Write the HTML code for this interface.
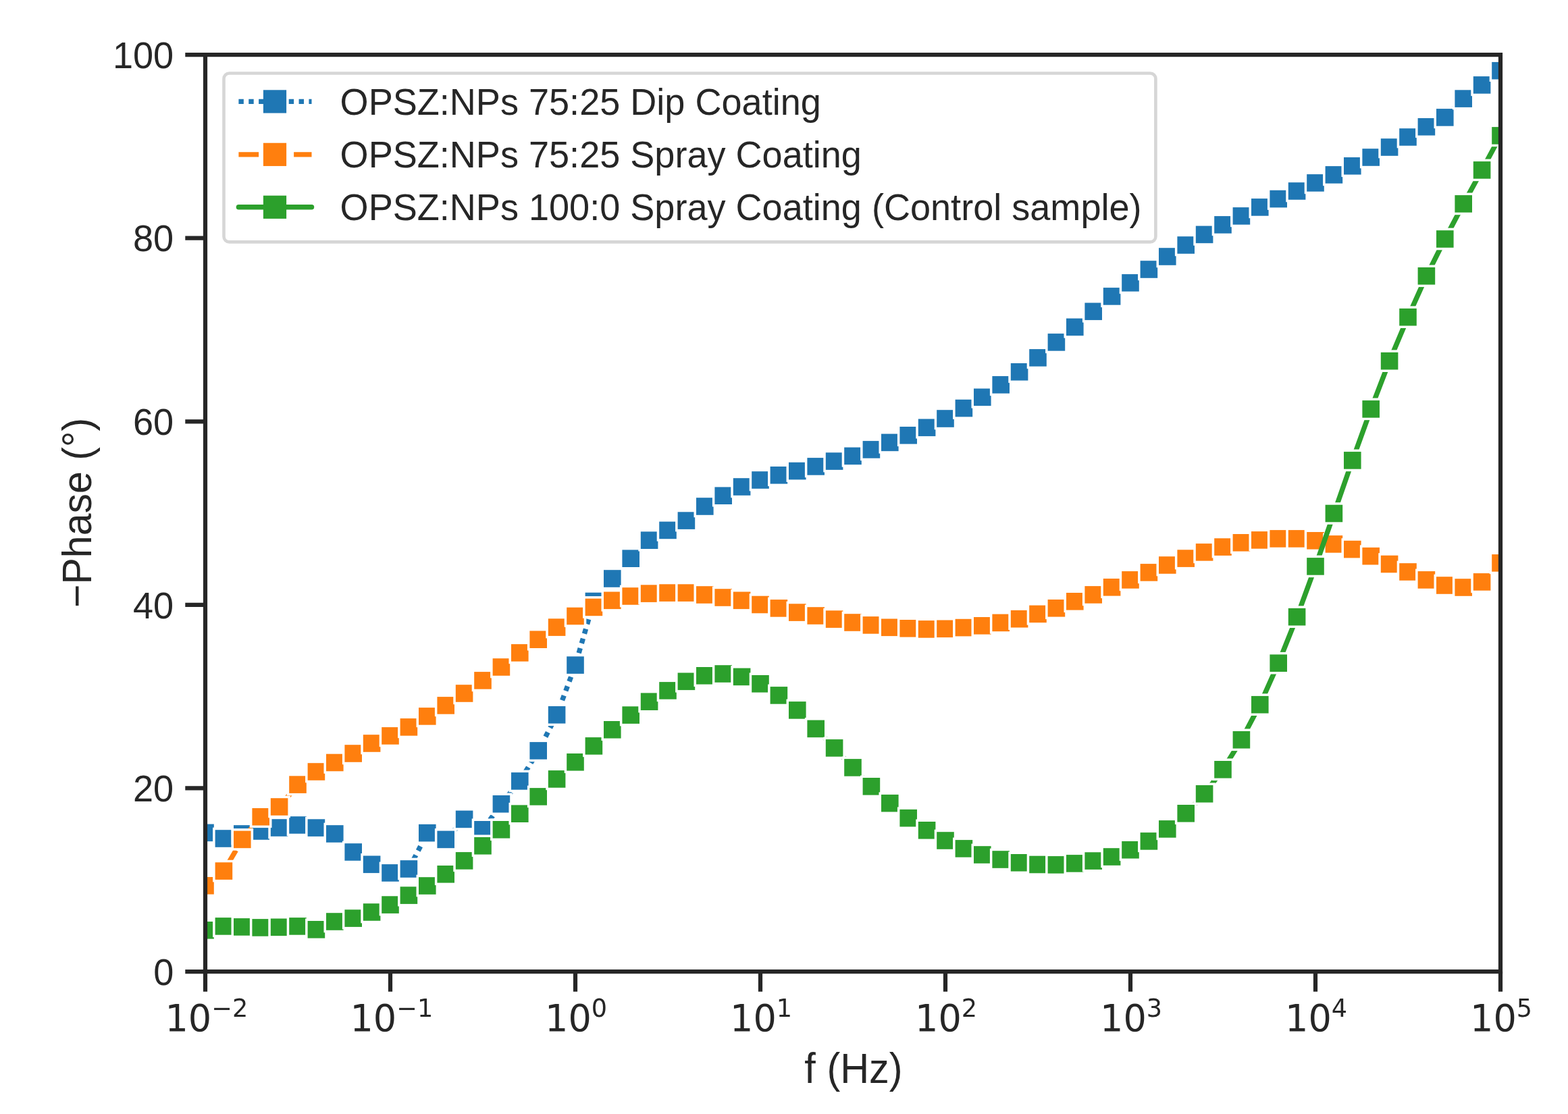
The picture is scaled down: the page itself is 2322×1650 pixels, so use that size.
<!DOCTYPE html>
<html><head><meta charset="utf-8"><title>-Phase vs f</title>
<style>html,body{margin:0;padding:0;background:#fff;width:2322px;height:1650px;overflow:hidden;}svg{display:block;}text{font-family:"Liberation Sans",Arial,sans-serif;fill:#262626;}.dv{font-family:"DejaVu Sans","Liberation Sans",sans-serif;}</style>
</head><body>
<svg width="2322" height="1650" viewBox="0 0 2322 1650">
<rect x="0" y="0" width="2322" height="1650" fill="#fff"/>
<defs><clipPath id="ax"><rect x="304" y="81.1" width="1918" height="1357.95"/></clipPath></defs>
<g clip-path="url(#ax)">
<polyline points="304,1233.4 331.4,1242 358.8,1235 386.2,1231 413.6,1226 441,1222 468.4,1226.1 495.8,1235 523.2,1262 550.6,1280.3 578,1292.9 605.4,1287 632.8,1233.7 660.2,1243.4 687.6,1213.4 715,1228.8 742.4,1190.8 769.8,1156.9 797.2,1111.9 824.6,1058.8 852,985.1 879.4,890.5 906.8,857 934.2,827.2 961.6,800.2 989,785.4 1016.4,771.1 1043.8,750 1071.2,734.2 1098.6,721 1126,711 1153.4,703.8 1180.8,697.6 1208.2,690.9 1235.6,683.1 1263,675.4 1290.4,665.9 1317.8,655.4 1345.2,644.8 1372.6,633.3 1400,620 1427.4,604.6 1454.8,588.3 1482.2,569.9 1509.6,550.8 1537,529.9 1564.4,506.9 1591.8,484.4 1619.2,461.3 1646.6,438.9 1674,418.9 1701.4,399 1728.8,380 1756.2,363 1783.6,347.4 1811,332.9 1838.4,319.9 1865.8,306.9 1893.2,294.6 1920.6,283 1948,270.9 1975.4,258.9 2002.8,245.8 2030.2,233 2057.6,218 2085,203 2112.4,187.8 2139.8,173.9 2167.2,146.1 2194.6,125.9 2222,104.7" fill="none" stroke="#1f77b4" stroke-width="7.43" stroke-linejoin="round" stroke-dasharray="7.43 7.43" stroke-linecap="butt"/>
<g fill="#1f77b4" stroke="#fff" stroke-width="3.5">
<rect x="289.45" y="1218.85" width="29.1" height="29.1"/>
<rect x="316.85" y="1227.45" width="29.1" height="29.1"/>
<rect x="344.25" y="1220.45" width="29.1" height="29.1"/>
<rect x="371.65" y="1216.45" width="29.1" height="29.1"/>
<rect x="399.05" y="1211.45" width="29.1" height="29.1"/>
<rect x="426.45" y="1207.45" width="29.1" height="29.1"/>
<rect x="453.85" y="1211.55" width="29.1" height="29.1"/>
<rect x="481.25" y="1220.45" width="29.1" height="29.1"/>
<rect x="508.65" y="1247.45" width="29.1" height="29.1"/>
<rect x="536.05" y="1265.75" width="29.1" height="29.1"/>
<rect x="563.45" y="1278.35" width="29.1" height="29.1"/>
<rect x="590.85" y="1272.45" width="29.1" height="29.1"/>
<rect x="618.25" y="1219.15" width="29.1" height="29.1"/>
<rect x="645.65" y="1228.85" width="29.1" height="29.1"/>
<rect x="673.05" y="1198.85" width="29.1" height="29.1"/>
<rect x="700.45" y="1214.25" width="29.1" height="29.1"/>
<rect x="727.85" y="1176.25" width="29.1" height="29.1"/>
<rect x="755.25" y="1142.35" width="29.1" height="29.1"/>
<rect x="782.65" y="1097.35" width="29.1" height="29.1"/>
<rect x="810.05" y="1044.25" width="29.1" height="29.1"/>
<rect x="837.45" y="970.55" width="29.1" height="29.1"/>
<rect x="864.85" y="875.95" width="29.1" height="29.1"/>
<rect x="892.25" y="842.45" width="29.1" height="29.1"/>
<rect x="919.65" y="812.65" width="29.1" height="29.1"/>
<rect x="947.05" y="785.65" width="29.1" height="29.1"/>
<rect x="974.45" y="770.85" width="29.1" height="29.1"/>
<rect x="1001.85" y="756.55" width="29.1" height="29.1"/>
<rect x="1029.25" y="735.45" width="29.1" height="29.1"/>
<rect x="1056.65" y="719.65" width="29.1" height="29.1"/>
<rect x="1084.05" y="706.45" width="29.1" height="29.1"/>
<rect x="1111.45" y="696.45" width="29.1" height="29.1"/>
<rect x="1138.85" y="689.25" width="29.1" height="29.1"/>
<rect x="1166.25" y="683.05" width="29.1" height="29.1"/>
<rect x="1193.65" y="676.35" width="29.1" height="29.1"/>
<rect x="1221.05" y="668.55" width="29.1" height="29.1"/>
<rect x="1248.45" y="660.85" width="29.1" height="29.1"/>
<rect x="1275.85" y="651.35" width="29.1" height="29.1"/>
<rect x="1303.25" y="640.85" width="29.1" height="29.1"/>
<rect x="1330.65" y="630.25" width="29.1" height="29.1"/>
<rect x="1358.05" y="618.75" width="29.1" height="29.1"/>
<rect x="1385.45" y="605.45" width="29.1" height="29.1"/>
<rect x="1412.85" y="590.05" width="29.1" height="29.1"/>
<rect x="1440.25" y="573.75" width="29.1" height="29.1"/>
<rect x="1467.65" y="555.35" width="29.1" height="29.1"/>
<rect x="1495.05" y="536.25" width="29.1" height="29.1"/>
<rect x="1522.45" y="515.35" width="29.1" height="29.1"/>
<rect x="1549.85" y="492.35" width="29.1" height="29.1"/>
<rect x="1577.25" y="469.85" width="29.1" height="29.1"/>
<rect x="1604.65" y="446.75" width="29.1" height="29.1"/>
<rect x="1632.05" y="424.35" width="29.1" height="29.1"/>
<rect x="1659.45" y="404.35" width="29.1" height="29.1"/>
<rect x="1686.85" y="384.45" width="29.1" height="29.1"/>
<rect x="1714.25" y="365.45" width="29.1" height="29.1"/>
<rect x="1741.65" y="348.45" width="29.1" height="29.1"/>
<rect x="1769.05" y="332.85" width="29.1" height="29.1"/>
<rect x="1796.45" y="318.35" width="29.1" height="29.1"/>
<rect x="1823.85" y="305.35" width="29.1" height="29.1"/>
<rect x="1851.25" y="292.35" width="29.1" height="29.1"/>
<rect x="1878.65" y="280.05" width="29.1" height="29.1"/>
<rect x="1906.05" y="268.45" width="29.1" height="29.1"/>
<rect x="1933.45" y="256.35" width="29.1" height="29.1"/>
<rect x="1960.85" y="244.35" width="29.1" height="29.1"/>
<rect x="1988.25" y="231.25" width="29.1" height="29.1"/>
<rect x="2015.65" y="218.45" width="29.1" height="29.1"/>
<rect x="2043.05" y="203.45" width="29.1" height="29.1"/>
<rect x="2070.45" y="188.45" width="29.1" height="29.1"/>
<rect x="2097.85" y="173.25" width="29.1" height="29.1"/>
<rect x="2125.25" y="159.35" width="29.1" height="29.1"/>
<rect x="2152.65" y="131.55" width="29.1" height="29.1"/>
<rect x="2180.05" y="111.35" width="29.1" height="29.1"/>
<rect x="2207.45" y="90.15" width="29.1" height="29.1"/>
</g>
<polyline points="304,1311.8 331.4,1290.1 358.8,1243.4 386.2,1209.8 413.6,1195 441,1162.1 468.4,1143 495.8,1129.5 523.2,1116 550.6,1101 578,1089.9 605.4,1076.9 632.8,1060.9 660.2,1044.9 687.6,1027 715,1007.9 742.4,988 769.8,966.9 797.2,947.2 824.6,929.1 852,912.5 879.4,899.4 906.8,889.3 934.2,883 961.6,879.1 989,878.1 1016.4,878.1 1043.8,881 1071.2,885 1098.6,889.3 1126,895.5 1153.4,900.9 1180.8,907.1 1208.2,912 1235.6,917.1 1263,922 1290.4,925.9 1317.8,929.3 1345.2,930.8 1372.6,931.9 1400,931.3 1427.4,929.6 1454.8,926.8 1482.2,922.4 1509.6,916.7 1537,909.4 1564.4,900.8 1591.8,890.8 1619.2,880.9 1646.6,869.8 1674,858.9 1701.4,847.9 1728.8,837 1756.2,827.1 1783.6,817.9 1811,810.1 1838.4,803.8 1865.8,799.9 1893.2,797.9 1920.6,797.9 1948,800.8 1975.4,805.9 2002.8,813.6 2030.2,823.7 2057.6,835.5 2085,847 2112.4,858.9 2139.8,867 2167.2,870 2194.6,861.9 2222,833.9" fill="none" stroke="#ff7f0e" stroke-width="7.43" stroke-linejoin="round" stroke-dasharray="29.72 11.14" stroke-linecap="butt"/>
<g fill="#ff7f0e" stroke="#fff" stroke-width="3.5">
<rect x="289.45" y="1297.25" width="29.1" height="29.1"/>
<rect x="316.85" y="1275.55" width="29.1" height="29.1"/>
<rect x="344.25" y="1228.85" width="29.1" height="29.1"/>
<rect x="371.65" y="1195.25" width="29.1" height="29.1"/>
<rect x="399.05" y="1180.45" width="29.1" height="29.1"/>
<rect x="426.45" y="1147.55" width="29.1" height="29.1"/>
<rect x="453.85" y="1128.45" width="29.1" height="29.1"/>
<rect x="481.25" y="1114.95" width="29.1" height="29.1"/>
<rect x="508.65" y="1101.45" width="29.1" height="29.1"/>
<rect x="536.05" y="1086.45" width="29.1" height="29.1"/>
<rect x="563.45" y="1075.35" width="29.1" height="29.1"/>
<rect x="590.85" y="1062.35" width="29.1" height="29.1"/>
<rect x="618.25" y="1046.35" width="29.1" height="29.1"/>
<rect x="645.65" y="1030.35" width="29.1" height="29.1"/>
<rect x="673.05" y="1012.45" width="29.1" height="29.1"/>
<rect x="700.45" y="993.35" width="29.1" height="29.1"/>
<rect x="727.85" y="973.45" width="29.1" height="29.1"/>
<rect x="755.25" y="952.35" width="29.1" height="29.1"/>
<rect x="782.65" y="932.65" width="29.1" height="29.1"/>
<rect x="810.05" y="914.55" width="29.1" height="29.1"/>
<rect x="837.45" y="897.95" width="29.1" height="29.1"/>
<rect x="864.85" y="884.85" width="29.1" height="29.1"/>
<rect x="892.25" y="874.75" width="29.1" height="29.1"/>
<rect x="919.65" y="868.45" width="29.1" height="29.1"/>
<rect x="947.05" y="864.55" width="29.1" height="29.1"/>
<rect x="974.45" y="863.55" width="29.1" height="29.1"/>
<rect x="1001.85" y="863.55" width="29.1" height="29.1"/>
<rect x="1029.25" y="866.45" width="29.1" height="29.1"/>
<rect x="1056.65" y="870.45" width="29.1" height="29.1"/>
<rect x="1084.05" y="874.75" width="29.1" height="29.1"/>
<rect x="1111.45" y="880.95" width="29.1" height="29.1"/>
<rect x="1138.85" y="886.35" width="29.1" height="29.1"/>
<rect x="1166.25" y="892.55" width="29.1" height="29.1"/>
<rect x="1193.65" y="897.45" width="29.1" height="29.1"/>
<rect x="1221.05" y="902.55" width="29.1" height="29.1"/>
<rect x="1248.45" y="907.45" width="29.1" height="29.1"/>
<rect x="1275.85" y="911.35" width="29.1" height="29.1"/>
<rect x="1303.25" y="914.75" width="29.1" height="29.1"/>
<rect x="1330.65" y="916.25" width="29.1" height="29.1"/>
<rect x="1358.05" y="917.35" width="29.1" height="29.1"/>
<rect x="1385.45" y="916.75" width="29.1" height="29.1"/>
<rect x="1412.85" y="915.05" width="29.1" height="29.1"/>
<rect x="1440.25" y="912.25" width="29.1" height="29.1"/>
<rect x="1467.65" y="907.85" width="29.1" height="29.1"/>
<rect x="1495.05" y="902.15" width="29.1" height="29.1"/>
<rect x="1522.45" y="894.85" width="29.1" height="29.1"/>
<rect x="1549.85" y="886.25" width="29.1" height="29.1"/>
<rect x="1577.25" y="876.25" width="29.1" height="29.1"/>
<rect x="1604.65" y="866.35" width="29.1" height="29.1"/>
<rect x="1632.05" y="855.25" width="29.1" height="29.1"/>
<rect x="1659.45" y="844.35" width="29.1" height="29.1"/>
<rect x="1686.85" y="833.35" width="29.1" height="29.1"/>
<rect x="1714.25" y="822.45" width="29.1" height="29.1"/>
<rect x="1741.65" y="812.55" width="29.1" height="29.1"/>
<rect x="1769.05" y="803.35" width="29.1" height="29.1"/>
<rect x="1796.45" y="795.55" width="29.1" height="29.1"/>
<rect x="1823.85" y="789.25" width="29.1" height="29.1"/>
<rect x="1851.25" y="785.35" width="29.1" height="29.1"/>
<rect x="1878.65" y="783.35" width="29.1" height="29.1"/>
<rect x="1906.05" y="783.35" width="29.1" height="29.1"/>
<rect x="1933.45" y="786.25" width="29.1" height="29.1"/>
<rect x="1960.85" y="791.35" width="29.1" height="29.1"/>
<rect x="1988.25" y="799.05" width="29.1" height="29.1"/>
<rect x="2015.65" y="809.15" width="29.1" height="29.1"/>
<rect x="2043.05" y="820.95" width="29.1" height="29.1"/>
<rect x="2070.45" y="832.45" width="29.1" height="29.1"/>
<rect x="2097.85" y="844.35" width="29.1" height="29.1"/>
<rect x="2125.25" y="852.45" width="29.1" height="29.1"/>
<rect x="2152.65" y="855.45" width="29.1" height="29.1"/>
<rect x="2180.05" y="847.35" width="29.1" height="29.1"/>
<rect x="2207.45" y="819.35" width="29.1" height="29.1"/>
</g>
<polyline points="304,1377.8 331.4,1371.9 358.8,1372.9 386.2,1373.9 413.6,1373.3 441,1371.9 468.4,1376.8 495.8,1365 523.2,1360.1 550.6,1351 578,1340.1 605.4,1326.1 632.8,1312 660.2,1294.8 687.6,1274.9 715,1252.8 742.4,1228.8 769.8,1205.2 797.2,1179.9 824.6,1153.9 852,1128.8 879.4,1104.9 906.8,1080.8 934.2,1059.1 961.6,1039.2 989,1022.9 1016.4,1009.3 1043.8,1000.8 1071.2,998 1098.6,1002.4 1126,1012.8 1153.4,1029.9 1180.8,1051.9 1208.2,1079.4 1235.6,1107.9 1263,1136.9 1290.4,1164.8 1317.8,1189.7 1345.2,1211.7 1372.6,1229.8 1400,1245 1427.4,1256.9 1454.8,1266 1482.2,1273 1509.6,1277.8 1537,1280.5 1564.4,1280.9 1591.8,1278.9 1619.2,1275.1 1646.6,1269 1674,1258.8 1701.4,1245.9 1728.8,1227.9 1756.2,1204.8 1783.6,1175.8 1811,1139.8 1838.4,1095.8 1865.8,1043.7 1893.2,982.2 1920.6,913.7 1948,838.9 1975.4,760.5 2002.8,681.9 2030.2,605.9 2057.6,534.7 2085,469.7 2112.4,408.8 2139.8,354 2167.2,301.9 2194.6,251.9 2222,200.9" fill="none" stroke="#2ca02c" stroke-width="7.43" stroke-linejoin="round" stroke-linecap="round"/>
<g fill="#2ca02c" stroke="#fff" stroke-width="3.5">
<rect x="289.45" y="1363.25" width="29.1" height="29.1"/>
<rect x="316.85" y="1357.35" width="29.1" height="29.1"/>
<rect x="344.25" y="1358.35" width="29.1" height="29.1"/>
<rect x="371.65" y="1359.35" width="29.1" height="29.1"/>
<rect x="399.05" y="1358.75" width="29.1" height="29.1"/>
<rect x="426.45" y="1357.35" width="29.1" height="29.1"/>
<rect x="453.85" y="1362.25" width="29.1" height="29.1"/>
<rect x="481.25" y="1350.45" width="29.1" height="29.1"/>
<rect x="508.65" y="1345.55" width="29.1" height="29.1"/>
<rect x="536.05" y="1336.45" width="29.1" height="29.1"/>
<rect x="563.45" y="1325.55" width="29.1" height="29.1"/>
<rect x="590.85" y="1311.55" width="29.1" height="29.1"/>
<rect x="618.25" y="1297.45" width="29.1" height="29.1"/>
<rect x="645.65" y="1280.25" width="29.1" height="29.1"/>
<rect x="673.05" y="1260.35" width="29.1" height="29.1"/>
<rect x="700.45" y="1238.25" width="29.1" height="29.1"/>
<rect x="727.85" y="1214.25" width="29.1" height="29.1"/>
<rect x="755.25" y="1190.65" width="29.1" height="29.1"/>
<rect x="782.65" y="1165.35" width="29.1" height="29.1"/>
<rect x="810.05" y="1139.35" width="29.1" height="29.1"/>
<rect x="837.45" y="1114.25" width="29.1" height="29.1"/>
<rect x="864.85" y="1090.35" width="29.1" height="29.1"/>
<rect x="892.25" y="1066.25" width="29.1" height="29.1"/>
<rect x="919.65" y="1044.55" width="29.1" height="29.1"/>
<rect x="947.05" y="1024.65" width="29.1" height="29.1"/>
<rect x="974.45" y="1008.35" width="29.1" height="29.1"/>
<rect x="1001.85" y="994.75" width="29.1" height="29.1"/>
<rect x="1029.25" y="986.25" width="29.1" height="29.1"/>
<rect x="1056.65" y="983.45" width="29.1" height="29.1"/>
<rect x="1084.05" y="987.85" width="29.1" height="29.1"/>
<rect x="1111.45" y="998.25" width="29.1" height="29.1"/>
<rect x="1138.85" y="1015.35" width="29.1" height="29.1"/>
<rect x="1166.25" y="1037.35" width="29.1" height="29.1"/>
<rect x="1193.65" y="1064.85" width="29.1" height="29.1"/>
<rect x="1221.05" y="1093.35" width="29.1" height="29.1"/>
<rect x="1248.45" y="1122.35" width="29.1" height="29.1"/>
<rect x="1275.85" y="1150.25" width="29.1" height="29.1"/>
<rect x="1303.25" y="1175.15" width="29.1" height="29.1"/>
<rect x="1330.65" y="1197.15" width="29.1" height="29.1"/>
<rect x="1358.05" y="1215.25" width="29.1" height="29.1"/>
<rect x="1385.45" y="1230.45" width="29.1" height="29.1"/>
<rect x="1412.85" y="1242.35" width="29.1" height="29.1"/>
<rect x="1440.25" y="1251.45" width="29.1" height="29.1"/>
<rect x="1467.65" y="1258.45" width="29.1" height="29.1"/>
<rect x="1495.05" y="1263.25" width="29.1" height="29.1"/>
<rect x="1522.45" y="1265.95" width="29.1" height="29.1"/>
<rect x="1549.85" y="1266.35" width="29.1" height="29.1"/>
<rect x="1577.25" y="1264.35" width="29.1" height="29.1"/>
<rect x="1604.65" y="1260.55" width="29.1" height="29.1"/>
<rect x="1632.05" y="1254.45" width="29.1" height="29.1"/>
<rect x="1659.45" y="1244.25" width="29.1" height="29.1"/>
<rect x="1686.85" y="1231.35" width="29.1" height="29.1"/>
<rect x="1714.25" y="1213.35" width="29.1" height="29.1"/>
<rect x="1741.65" y="1190.25" width="29.1" height="29.1"/>
<rect x="1769.05" y="1161.25" width="29.1" height="29.1"/>
<rect x="1796.45" y="1125.25" width="29.1" height="29.1"/>
<rect x="1823.85" y="1081.25" width="29.1" height="29.1"/>
<rect x="1851.25" y="1029.15" width="29.1" height="29.1"/>
<rect x="1878.65" y="967.65" width="29.1" height="29.1"/>
<rect x="1906.05" y="899.15" width="29.1" height="29.1"/>
<rect x="1933.45" y="824.35" width="29.1" height="29.1"/>
<rect x="1960.85" y="745.95" width="29.1" height="29.1"/>
<rect x="1988.25" y="667.35" width="29.1" height="29.1"/>
<rect x="2015.65" y="591.35" width="29.1" height="29.1"/>
<rect x="2043.05" y="520.15" width="29.1" height="29.1"/>
<rect x="2070.45" y="455.15" width="29.1" height="29.1"/>
<rect x="2097.85" y="394.25" width="29.1" height="29.1"/>
<rect x="2125.25" y="339.45" width="29.1" height="29.1"/>
<rect x="2152.65" y="287.35" width="29.1" height="29.1"/>
<rect x="2180.05" y="237.35" width="29.1" height="29.1"/>
<rect x="2207.45" y="186.35" width="29.1" height="29.1"/>
</g>
</g>
<rect x="304" y="81.1" width="1918" height="1357.95" fill="none" stroke="#262626" stroke-width="6.2" stroke-linejoin="miter"/>
<path d="M304 1439.05V1468.75M578 1439.05V1468.75M852 1439.05V1468.75M1126 1439.05V1468.75M1400 1439.05V1468.75M1674 1439.05V1468.75M1948 1439.05V1468.75M2222 1439.05V1468.75M304 1439.05H274.3M304 1167.46H274.3M304 895.87H274.3M304 624.28H274.3M304 352.69H274.3M304 81.1H274.3" stroke="#262626" stroke-width="6.2" fill="none"/>
<text transform="translate(257.2 1458.85) scale(1 1.02)" font-size="54.08" text-anchor="end">0</text>
<text transform="translate(257.2 1187.26) scale(1 1.02)" font-size="54.08" text-anchor="end">20</text>
<text transform="translate(257.2 915.67) scale(1 1.02)" font-size="54.08" text-anchor="end">40</text>
<text transform="translate(257.2 644.08) scale(1 1.02)" font-size="54.08" text-anchor="end">60</text>
<text transform="translate(257.2 372.49) scale(1 1.02)" font-size="54.08" text-anchor="end">80</text>
<text transform="translate(257.2 100.9) scale(1 1.02)" font-size="54.08" text-anchor="end">100</text>
<text transform="translate(244.45 1526.5) scale(1 1.02)" font-size="54.08" class="dv">10</text>
<text transform="translate(313.27 1506.3) scale(1 1.02)" font-size="36.6" class="dv">−2</text>
<text transform="translate(518.45 1526.5) scale(1 1.02)" font-size="54.08" class="dv">10</text>
<text transform="translate(587.27 1506.3) scale(1 1.02)" font-size="36.6" class="dv">−1</text>
<text transform="translate(807.05 1526.5) scale(1 1.02)" font-size="54.08" class="dv">10</text>
<text transform="translate(875.87 1506.3) scale(1 1.02)" font-size="36.6" class="dv">0</text>
<text transform="translate(1081.05 1526.5) scale(1 1.02)" font-size="54.08" class="dv">10</text>
<text transform="translate(1149.87 1506.3) scale(1 1.02)" font-size="36.6" class="dv">1</text>
<text transform="translate(1355.05 1526.5) scale(1 1.02)" font-size="54.08" class="dv">10</text>
<text transform="translate(1423.87 1506.3) scale(1 1.02)" font-size="36.6" class="dv">2</text>
<text transform="translate(1629.05 1526.5) scale(1 1.02)" font-size="54.08" class="dv">10</text>
<text transform="translate(1697.87 1506.3) scale(1 1.02)" font-size="36.6" class="dv">3</text>
<text transform="translate(1903.05 1526.5) scale(1 1.02)" font-size="54.08" class="dv">10</text>
<text transform="translate(1971.87 1506.3) scale(1 1.02)" font-size="36.6" class="dv">4</text>
<text transform="translate(2177.05 1526.5) scale(1 1.02)" font-size="54.08" class="dv">10</text>
<text transform="translate(2245.87 1506.3) scale(1 1.02)" font-size="36.6" class="dv">5</text>
<text transform="translate(1264 1603.8) scale(1 1.05)" font-size="59.45" text-anchor="middle">f (Hz)</text>
<text transform="translate(135 759.45) rotate(-90) scale(1 1.05)" font-size="59" text-anchor="middle">−Phase (°)</text>
<rect x="331.5" y="108.5" width="1379.9" height="249.9" rx="8" ry="8" fill="#fff" fill-opacity="0.8" stroke="#d6d6d6" stroke-width="4.6"/>
<path d="M353.4 150.4H461.5" stroke="#1f77b4" stroke-width="7.43" stroke-linecap="butt" stroke-dasharray="7.43 7.43" fill="none"/>
<rect x="389.9" y="133.3" width="34.2" height="34.2" fill="#1f77b4"/>
<text transform="translate(503.6 169.8) scale(1 1.02)" font-size="54.08">OPSZ:NPs 75:25 Dip Coating</text>
<path d="M353.4 228.85H461.5" stroke="#ff7f0e" stroke-width="7.43" stroke-linecap="butt" stroke-dasharray="29.72 11.14" fill="none"/>
<rect x="389.9" y="211.75" width="34.2" height="34.2" fill="#ff7f0e"/>
<text transform="translate(503.6 247.8) scale(1 1.02)" font-size="54.08">OPSZ:NPs 75:25 Spray Coating</text>
<path d="M353.4 306.8H461.5" stroke="#2ca02c" stroke-width="7.43" stroke-linecap="round"  fill="none"/>
<rect x="389.9" y="289.7" width="34.2" height="34.2" fill="#2ca02c"/>
<text transform="translate(503.6 325.8) scale(1 1.02)" font-size="54.08">OPSZ:NPs 100:0 Spray Coating (Control sample)</text>
</svg>
</body></html>
